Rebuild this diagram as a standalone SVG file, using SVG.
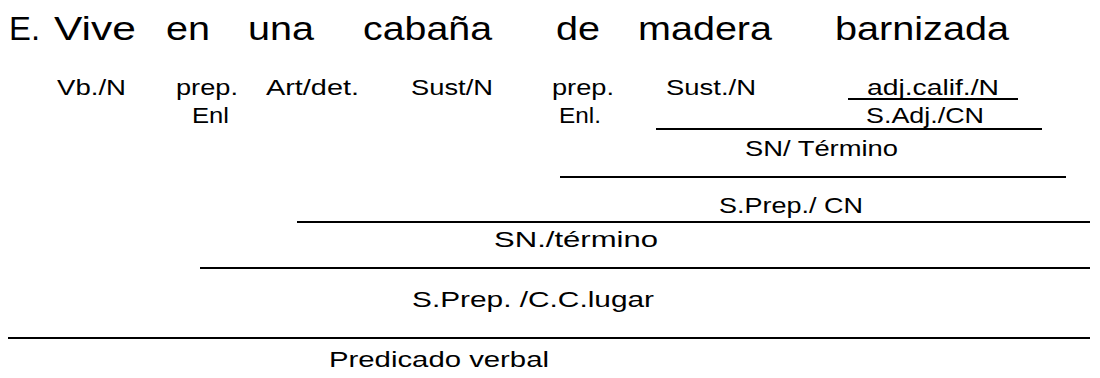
<svg xmlns="http://www.w3.org/2000/svg" width="1100" height="378" viewBox="0 0 1100 378">
<style>
.t{font-family:"Liberation Sans",Arial,sans-serif;font-size:34px;fill:#000}
.l{font-family:"Liberation Sans",Arial,sans-serif;font-size:22.5px;fill:#000}
.c line{stroke:#000;stroke-width:2}
</style>
<rect width="1100" height="378" fill="#fff"/>
<g id="title">
<text class="t" x="9" y="40" textLength="31" lengthAdjust="spacingAndGlyphs">E.</text>
<text class="t" x="54" y="40" textLength="82" lengthAdjust="spacingAndGlyphs">Vive</text>
<text class="t" x="166" y="40" textLength="44" lengthAdjust="spacingAndGlyphs">en</text>
<text class="t" x="248" y="40" textLength="66" lengthAdjust="spacingAndGlyphs">una</text>
<text class="t" x="363" y="40" textLength="129" lengthAdjust="spacingAndGlyphs">cabaña</text>
<text class="t" x="556" y="40" textLength="44" lengthAdjust="spacingAndGlyphs">de</text>
<text class="t" x="638" y="40" textLength="134" lengthAdjust="spacingAndGlyphs">madera</text>
<text class="t" x="835" y="40" textLength="174" lengthAdjust="spacingAndGlyphs">barnizada</text>
</g>
<g id="n-vb"><text class="l" x="57" y="95" textLength="69" lengthAdjust="spacingAndGlyphs">Vb./N</text></g>
<g id="n-prep1"><text class="l" x="176" y="95" textLength="62" lengthAdjust="spacingAndGlyphs">prep.</text><text class="l" x="192" y="123" textLength="37" lengthAdjust="spacingAndGlyphs">Enl</text></g>
<g id="n-art"><text class="l" x="266" y="95" textLength="93" lengthAdjust="spacingAndGlyphs">Art/det.</text></g>
<g id="n-sust1"><text class="l" x="411" y="95" textLength="82" lengthAdjust="spacingAndGlyphs">Sust/N</text></g>
<g id="n-prep2"><text class="l" x="552" y="95" textLength="62" lengthAdjust="spacingAndGlyphs">prep.</text><text class="l" x="559" y="123" textLength="42" lengthAdjust="spacingAndGlyphs">Enl.</text></g>
<g id="n-sust2"><text class="l" x="666" y="95" textLength="90" lengthAdjust="spacingAndGlyphs">Sust./N</text></g>
<g id="n-adj"><text class="l" x="867" y="95" textLength="132" lengthAdjust="spacingAndGlyphs">adj.calif./N</text></g>
<g id="n-sadj"><text class="l" x="866" y="123" textLength="118" lengthAdjust="spacingAndGlyphs">S.Adj./CN</text></g>
<g id="n-sn1"><text class="l" x="745" y="156" textLength="153" lengthAdjust="spacingAndGlyphs">SN/ Término</text></g>
<g id="n-sprep1"><text class="l" x="719" y="213" textLength="144" lengthAdjust="spacingAndGlyphs">S.Prep./ CN</text></g>
<g id="n-sn2"><text class="l" x="494" y="247" textLength="164" lengthAdjust="spacingAndGlyphs">SN./término</text></g>
<g id="n-sprep2"><text class="l" x="412" y="307" textLength="242" lengthAdjust="spacingAndGlyphs">S.Prep. /C.C.lugar</text></g>
<g id="n-pred"><text class="l" x="329" y="367" textLength="220" lengthAdjust="spacingAndGlyphs">Predicado verbal</text></g>
<g id="connectors" class="c">
<line x1="848" y1="99" x2="1018" y2="99"/>
<line x1="656" y1="129" x2="1042" y2="129"/>
<line x1="560" y1="177" x2="1066" y2="177"/>
<line x1="297" y1="222" x2="1090" y2="222"/>
<line x1="200" y1="268" x2="1090" y2="268"/>
<line x1="8" y1="338" x2="1090" y2="338"/>
</g>
</svg>
